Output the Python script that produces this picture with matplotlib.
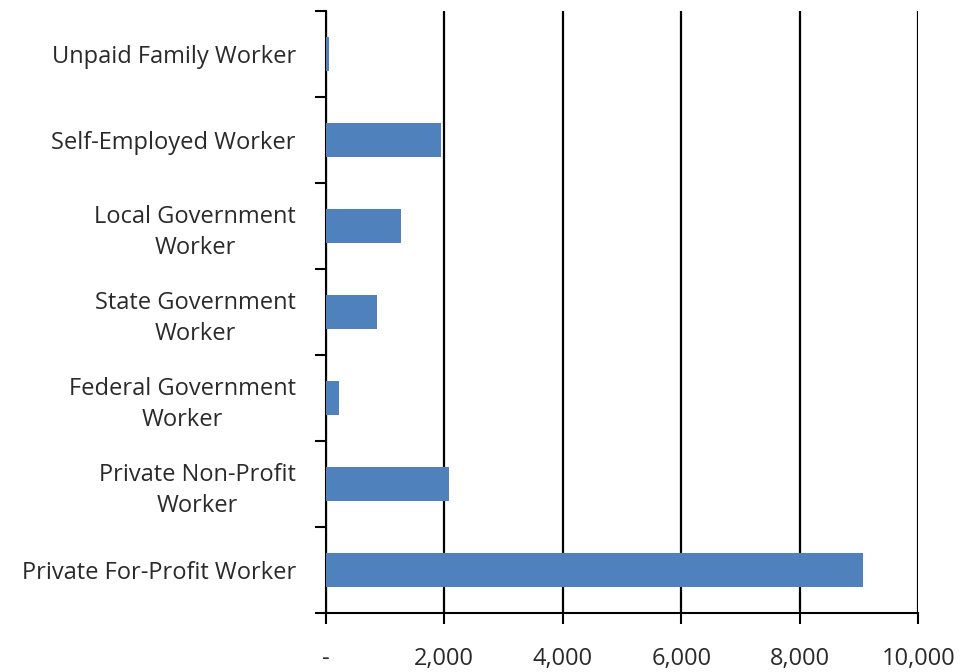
import matplotlib.pyplot as plt

# Workers by class of worker
categories = [
    'Private For-Profit Worker',
    'Private Non-Profit\nWorker',
    'Federal Government\nWorker',
    'State Government\nWorker',
    'Local Government\nWorker',
    'Self-Employed Worker',
    'Unpaid Family Worker',
]
workers = [9070, 2080, 220, 860, 1270, 1940, 50]
x_ticks = [0, 2000, 4000, 6000, 8000, 10000]
x_labels = ['-', '2,000', '4,000', '6,000', '8,000', '10,000']

plt.rcParams['font.family'] = ['Open Sans', 'DejaVu Sans']

fig = plt.figure(figsize=(9.65, 6.72), dpi=100)
ax = fig.add_axes([0.3375, 0.0874, 0.6141, 0.8962])

pos = list(range(len(categories)))
ax.barh(pos, workers, height=0.39, color='#4F81BD', zorder=3)

ax.set_xlim(0, 10000)
ax.set_ylim(-0.5, len(categories) - 0.5)

# category ticks sit between the bars
ax.set_yticks([p - 0.5 for p in pos] + [len(categories) - 0.5])
ax.set_yticklabels([])
ax.set_yticks(pos, minor=True)
ax.set_yticklabels(categories, minor=True, fontsize=17, color='#2a2a2a',
                   multialignment='center', linespacing=1.4)
ax.tick_params(axis='y', which='minor', length=0, pad=21.5)
ax.tick_params(axis='y', which='major', length=8, width=1.5, direction='out')

ax.set_xticks(x_ticks)
ax.set_xticklabels(x_labels, fontsize=17, color='#2a2a2a')
ax.tick_params(axis='x', length=8, width=1.5, direction='out', pad=16)

ax.xaxis.grid(True, color='black', linewidth=1.6, zorder=0)
for side in ['top', 'right']:
    ax.spines[side].set_visible(False)
for side in ['left', 'bottom']:
    ax.spines[side].set_linewidth(1.5)

fig.savefig('out.png', dpi=100)
